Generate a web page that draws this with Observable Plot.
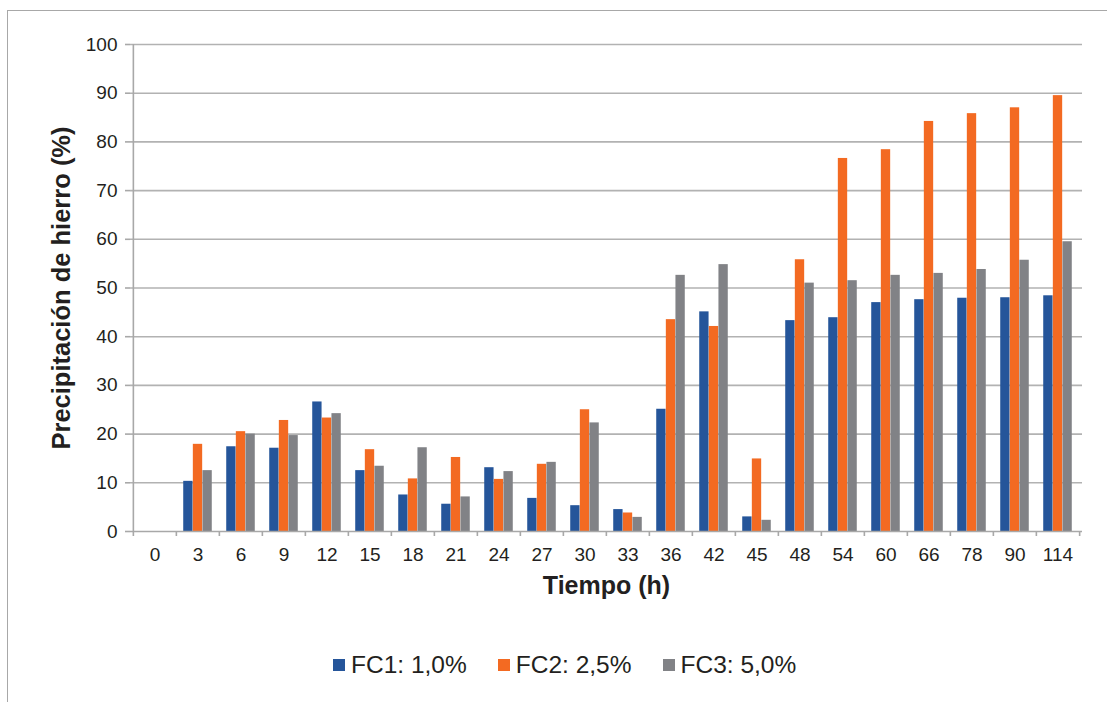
<!DOCTYPE html>
<html>
<head>
<meta charset="utf-8">
<script src="https://cdn.jsdelivr.net/npm/d3@7"></script>
<script src="https://cdn.jsdelivr.net/npm/@observablehq/plot@0.6"></script>
<style>
  html, body { margin: 0; padding: 0; background: #fff; }
  body { width: 1107px; height: 702px; position: relative; overflow: hidden; font-family: "Liberation Sans", Arial, sans-serif; color: #231f20; }
  #frame { position: absolute; left: 7px; top: 10px; width: 1110px; height: 700px; border-left: 1.6px solid #a8a8a8; border-top: 1.6px solid #a8a8a8; pointer-events: none; }
  #chart { position: absolute; left: 0; top: 0; }
  #legend { position: absolute; left: 333px; top: 651px; display: flex; align-items: center; font-size: 24.5px; white-space: nowrap; }
  .item { display: flex; align-items: center; margin-right: 31px; }
  .sw { width: 12px; height: 12px; margin-right: 6px; }
</style>
</head>
<body>
<div id="chart"></div>
<div id="frame"></div>
<div id="legend"></div>
<script>
// ---- data ----
const tiempos = ["0","3","6","9","12","15","18","21","24","27","30","33","36","42","45","48","54","60","66","78","90","114"];
const series = ["FC1: 1,0%", "FC2: 2,5%", "FC3: 5,0%"];
const fc1 = [0, 10.3, 17.4, 17.1, 26.6, 12.5, 7.5, 5.6, 13.1, 6.8, 5.3, 4.5, 25.1, 45.1, 3.0, 43.3, 43.9, 47.0, 47.6, 47.9, 48.0, 48.4];
const fc2 = [0, 17.9, 20.5, 22.8, 23.3, 16.8, 10.8, 15.2, 10.7, 13.8, 25.0, 3.8, 43.5, 42.1, 14.9, 55.8, 76.6, 78.4, 84.2, 85.8, 87.0, 89.5];
const fc3 = [0, 12.5, 20.0, 19.7, 24.2, 13.4, 17.2, 7.1, 12.3, 14.2, 22.3, 2.9, 52.6, 54.8, 2.3, 51.0, 51.5, 52.6, 53.0, 53.8, 55.7, 59.5];
const yTicks = [0, 10, 20, 30, 40, 50, 60, 70, 80, 90, 100];
const xTitle = "Tiempo (h)";
const yTitle = "Precipitación de hierro (%)";

// ---- styles ----
const colors = ["#25559a", "#f36a22", "#818286"];
const gridColor = "#b2b2b2";
const axisColor = "#a8a8a8";
const textColor = "#231f20";

const values = [fc1, fc2, fc3];
const rows = [];
series.forEach((s, i) => tiempos.forEach((t, j) => rows.push({tiempo: t, serie: s, valor: values[i][j]})));

const W = 1107, H = 620, mL = 130, mR = 25, mT = 44, mB = 89;
const step = (W - mL - mR) / tiempos.length;
const barW = step * 0.222;
const off = (step - 3 * barW) / 2;
const pxPerUnit = (H - mT - mB) / 100;
const tickUnits = 5 / pxPerUnit;

const chart = Plot.plot({
  width: W, height: H,
  marginLeft: mL, marginRight: mR, marginTop: mT, marginBottom: mB,
  style: {fontFamily: "'Liberation Sans', Arial, sans-serif", color: textColor, background: "transparent", overflow: "visible"},
  x: {domain: tiempos, padding: 0, axis: null},
  y: {domain: [0, 100], axis: null},
  marks: [
    Plot.ruleY(yTicks.slice(1), {stroke: gridColor, strokeWidth: 1.6}),
    ...series.map((s, i) => Plot.barY(rows.filter(d => d.serie === s), {
      x: "tiempo", y: "valor", fill: colors[i],
      insetLeft: off + i * barW, insetRight: step - off - (i + 1) * barW
    })),
    Plot.ruleY([0], {stroke: axisColor, strokeWidth: 1.6}),
    Plot.ruleX([tiempos[0]], {dx: -step / 2, y1: 0, y2: 100, stroke: axisColor, strokeWidth: 1.6}),
    Plot.ruleX(tiempos, {dx: -step / 2, y1: 0, y2: -tickUnits, stroke: axisColor, strokeWidth: 1.6}),
    Plot.ruleX([tiempos[tiempos.length - 1]], {dx: step / 2, y1: 0, y2: -tickUnits, stroke: axisColor, strokeWidth: 1.6}),
    Plot.axisY({ticks: yTicks, tickSize: 5, tickPadding: 8, fontSize: 19, stroke: axisColor, strokeWidth: 1.6, fill: textColor, label: null}),
    Plot.axisX({tickSize: 0, tickPadding: 16, fontSize: 19, fill: textColor, label: null}),
    Plot.text([xTitle], {frameAnchor: "bottom", dy: 62, fontWeight: "bold", fontSize: 25, fill: textColor}),
    Plot.text([yTitle], {frameAnchor: "left", dx: -69, rotate: -90, textAnchor: "middle", fontWeight: "bold", fontSize: 25.5, fill: textColor})
  ]
});
document.getElementById("chart").appendChild(chart);

const legend = document.getElementById("legend");
series.forEach((s, i) => {
  const item = document.createElement("div");
  item.className = "item";
  const sw = document.createElement("span");
  sw.className = "sw";
  sw.style.background = colors[i];
  const label = document.createElement("span");
  label.textContent = s;
  item.appendChild(sw);
  item.appendChild(label);
  legend.appendChild(item);
});
</script>
</body>
</html>
